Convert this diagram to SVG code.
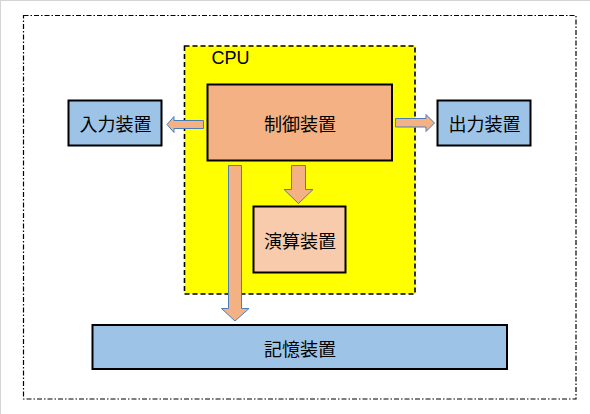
<svg xmlns="http://www.w3.org/2000/svg" width="590" height="414" viewBox="0 0 590 414">
<style>
.t{font-family:"Noto Sans CJK JP","Liberation Sans",sans-serif;font-size:18px;fill:#000;text-anchor:middle;dominant-baseline:central}
.box{stroke:#000;stroke-width:2}
.arr{fill:#F4B183;stroke:#4A7EBB;stroke-width:1}
</style>
<rect x="0" y="0" width="590" height="414" fill="#fff"/>
<line x1="0" y1="0.5" x2="590" y2="0.5" stroke="#d4d4d4" stroke-width="1"/>
<line x1="0.5" y1="0" x2="0.5" y2="414" stroke="#d4d4d4" stroke-width="1"/>
<rect id="frame" x="23.5" y="15.5" width="552.5" height="383.5" fill="none" stroke="#000" stroke-width="1.2" stroke-dasharray="5,2,1.5,2"/>
<g id="cpu">
<rect x="184.5" y="46" width="230.5" height="248" fill="#FFFF00" stroke="#000" stroke-width="1.6" stroke-dasharray="5,3"/>
<text x="230.5" y="58" font-family="Liberation Sans,Arial,sans-serif" font-size="18" text-anchor="middle" dominant-baseline="central">CPU</text>
</g>
<g id="control">
<rect class="box" x="207.5" y="84.5" width="184.5" height="76" fill="#F4B183"/>
<text class="t" x="300" y="123">制御装置</text>
</g>
<g id="input">
<rect class="box" x="68.5" y="100.5" width="93" height="45" fill="#9DC3E6"/>
<text class="t" x="115.5" y="123">入力装置</text>
</g>
<g id="output">
<rect class="box" x="437.5" y="100.5" width="93" height="45" fill="#9DC3E6"/>
<text class="t" x="484.5" y="123">出力装置</text>
</g>
<g id="alu">
<rect class="box" x="253.5" y="206.5" width="92" height="66" fill="#F8CBAD"/>
<text class="t" x="300" y="240">演算装置</text>
</g>
<g id="memory">
<rect class="box" x="92.5" y="325" width="414.5" height="44" fill="#9DC3E6"/>
<text class="t" x="300" y="348">記憶装置</text>
</g>
<g id="connectors">
<polygon class="arr" points="203.5,120.5 174,120.5 174,116.5 167,124.5 174,132.5 174,128.5 203.5,128.5"/>
<polygon class="arr" points="395.5,118.5 426,118.5 426,114.5 434.5,123 426,131.5 426,127 395.5,127"/>
<polygon class="arr" points="291.5,165.5 305.5,165.5 305.5,189.5 313,189.5 298.5,203.5 284,189.5 291.5,189.5"/>
<polygon class="arr" points="228.5,165.5 241.5,165.5 241.5,308.5 249,308.5 235,321 221.5,308.5 228.5,308.5"/>
</g>
</svg>
